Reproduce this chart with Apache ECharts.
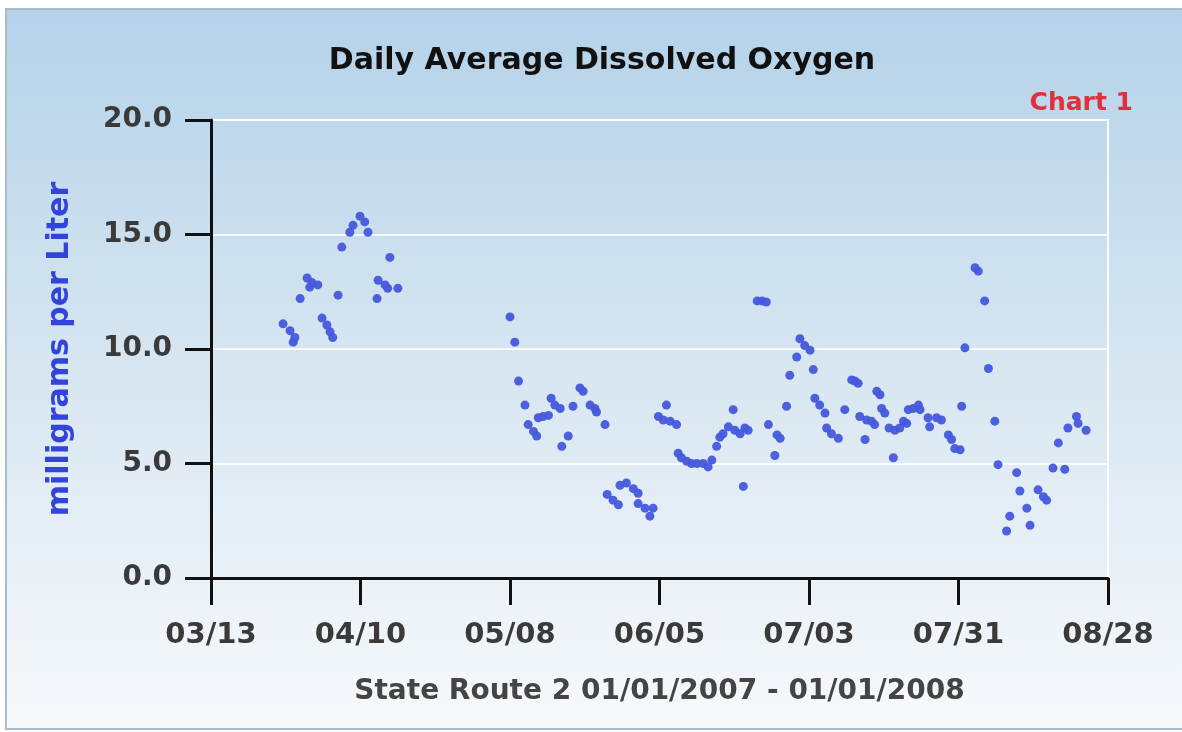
<!DOCTYPE html>
<html>
<head>
<meta charset="utf-8">
<script src="https://cdn.jsdelivr.net/npm/echarts@6/dist/echarts.min.js"></script>
<style>
  html, body { margin: 0; padding: 0; background: #ffffff; }
  #chart { width: 1182px; height: 732px; }
</style>
</head>
<body>
<div id="chart"></div>
<script>
// Days after 03/13/2007 for each daily reading
const dayOffsets = [
  13.5, 14.8, 15.7, 15.4, 16.7, 18.0, 18.9, 20.0, 18.5, 20.8, 21.7, 22.3, 22.8,
  23.8, 24.5, 26.0, 26.6, 27.9, 28.8, 29.4, 31.1, 31.3, 32.6, 33.1, 33.5, 35.0,
  56.0, 56.9, 57.6, 58.8, 59.4, 60.4, 61.0, 61.3, 62.2, 63.2, 63.7, 64.4, 65.4,
  65.7, 66.9, 67.8, 69.1, 69.7, 71.0, 71.9, 72.2, 73.8, 74.2, 75.3, 76.3, 76.6,
  77.8, 79.1, 80.0, 80.0, 81.3, 82.2, 82.8,
  83.8, 84.7, 85.3, 86.0, 87.2, 87.5, 88.1, 89.1, 90.0, 91.0, 92.2, 93.1, 93.8,
  94.7, 95.3, 95.9, 96.9, 97.8, 98.1, 99.1, 99.7, 100.0, 100.6, 102.3, 103.2,
  104.0, 104.4, 106.0, 106.6, 105.6, 107.8, 108.4, 109.7, 110.3, 111.2, 112.2,
  112.8, 113.1, 114.0, 115.0, 115.3, 116.2, 117.5, 118.7, 120.0, 120.6, 121.2,
  121.5, 122.8, 122.5, 123.7, 124.3, 124.7, 125.3, 125.6, 126.2, 127.0, 127.8,
  128.1, 129.0, 129.7, 130.3, 130.6, 131.5, 132.5, 132.8, 134.3, 134.6, 135.9,
  136.8, 138.1, 138.7, 139.3, 140.3, 140.6, 141.2, 143.1, 143.7, 144.9, 145.6,
  146.8, 147.4, 149.0, 149.6, 150.9, 151.5, 152.8, 153.4, 154.9, 155.9, 156.5,
  157.7, 158.7, 159.9, 160.5, 162.1, 162.4, 163.9
];
// Daily average dissolved oxygen, mg/L
const dissolvedOxygen = [
  11.1, 10.8, 10.5, 10.3, 12.2, 13.1, 12.9, 12.8, 12.7, 11.35, 11.05, 10.75, 10.5,
  12.35, 14.45, 15.1, 15.4, 15.8, 15.55, 15.1, 12.2, 13.0, 12.8, 12.65, 14.0, 12.65,
  11.4, 10.3, 8.6, 7.55, 6.7, 6.4, 6.2, 7.0, 7.05, 7.1, 7.85, 7.55, 7.4,
  5.75, 6.2, 7.5, 8.3, 8.15, 7.55, 7.4, 7.25, 6.7, 3.65, 3.4, 3.2, 4.05,
  4.15, 3.9, 3.7, 3.25, 3.05, 2.7, 3.05,
  7.05, 6.9, 7.55, 6.85, 6.7, 5.45, 5.25, 5.1, 5.0, 5.0, 5.0, 4.85, 5.15,
  5.75, 6.15, 6.3, 6.6, 7.35, 6.45, 6.3, 4.0, 6.55, 6.45, 12.1, 12.1,
  12.05, 6.7, 6.25, 6.1, 5.35, 7.5, 8.85, 9.65, 10.45, 10.15, 9.95,
  9.1, 7.85, 7.55, 7.2, 6.55, 6.3, 6.1, 7.35, 8.65, 8.6, 8.5,
  7.05, 6.9, 6.05, 6.85, 6.7, 8.15, 8.0, 7.4, 7.2, 6.55, 5.25,
  6.45, 6.55, 6.85, 6.75, 7.35, 7.4, 7.55, 7.35, 7.0, 6.6, 7.0,
  6.9, 6.25, 6.05, 5.65, 5.6, 7.5, 10.05, 13.55, 13.4, 12.1, 9.15,
  6.85, 4.95, 2.05, 2.7, 4.6, 3.8, 3.05, 2.3, 3.85, 3.55, 3.4,
  4.8, 5.9, 4.75, 6.55, 7.05, 6.75, 6.45
];
const xTickLabels = ['03/13', '04/10', '05/08', '06/05', '07/03', '07/31', '08/28'];
const yTickValues = [0, 5, 10, 15, 20];

const titleText = 'Daily Average Dissolved Oxygen';
const chartTag = 'Chart 1';
const xAxisTitle = 'State Route 2 01/01/2007 - 01/01/2008';
const yAxisTitle = 'milligrams per Liter';

const points = dayOffsets.map((d, i) => [d, dissolvedOxygen[i]]);

const chart = echarts.init(document.getElementById('chart'), null, { renderer: 'canvas' });
const FONT = 'DejaVu Sans';

chart.setOption({
  animation: false,
  backgroundColor: '#ffffff',
  graphic: [{
    type: 'rect',
    z: -100,
    silent: true,
    shape: { x: 6, y: 9, width: 1190, height: 720 },
    style: {
      fill: {
        type: 'linear', x: 0, y: 0, x2: 0, y2: 1,
        colorStops: [
          { offset: 0, color: '#b4d2e9' },
          { offset: 0.5, color: '#d7e6f1' },
          { offset: 1, color: '#f7f9fc' }
        ]
      },
      stroke: '#a9bccb',
      lineWidth: 2
    }
  }],
  title: [{
    text: titleText,
    left: 597,
    top: 41,
    textAlign: 'center',
    textStyle: { fontFamily: FONT, fontWeight: 'bold', fontSize: 30, color: '#111111' }
  }, {
    text: chartTag,
    right: 44,
    top: 86,
    textStyle: { fontFamily: FONT, fontWeight: 'bold', fontSize: 25, color: '#e0303c' }
  }],
  grid: {
    left: 211, right: 74, top: 120, bottom: 154,
    show: true,
    borderColor: 'rgba(255,255,255,0.9)',
    borderWidth: 2,
    backgroundColor: 'transparent'
  },
  xAxis: {
    type: 'value',
    min: 0, max: 168, interval: 28,
    name: xAxisTitle,
    nameLocation: 'middle',
    nameGap: 100,
    nameTextStyle: { fontFamily: FONT, fontWeight: 'bold', fontSize: 28, color: '#444444' },
    axisLine: { show: true, onZero: false, lineStyle: { color: '#111111', width: 3 } },
    axisTick: { show: true, length: 27, lineStyle: { color: '#111111', width: 3 } },
    axisLabel: {
      margin: 43,
      fontFamily: FONT, fontWeight: 'bold', fontSize: 29, color: '#3a3a3a',
      formatter: v => xTickLabels[Math.round(v / 28)] || ''
    },
    splitLine: { show: false }
  },
  yAxis: {
    type: 'value',
    min: 0, max: 20, interval: 5,
    name: yAxisTitle,
    nameLocation: 'middle',
    nameGap: 136,
    nameTextStyle: { fontFamily: FONT, fontWeight: 'bold', fontSize: 30, color: '#3344dd' },
    axisLine: { show: true, lineStyle: { color: '#111111', width: 3 } },
    axisTick: { show: true, length: 26, lineStyle: { color: '#111111', width: 3 } },
    axisLabel: {
      margin: 39,
      fontFamily: FONT, fontWeight: 'bold', fontSize: 28, color: '#3a3a3a',
      formatter: v => (yTickValues.indexOf(v) >= 0 ? v.toFixed(1) : '')
    },
    splitLine: { show: true, lineStyle: { color: 'rgba(255,255,255,0.85)', width: 2 } }
  },
  series: [{
    type: 'scatter',
    data: points,
    symbol: 'circle',
    symbolSize: 9,
    itemStyle: { color: '#4459dc', opacity: 0.95 }
  }]
});
</script>
</body>
</html>
